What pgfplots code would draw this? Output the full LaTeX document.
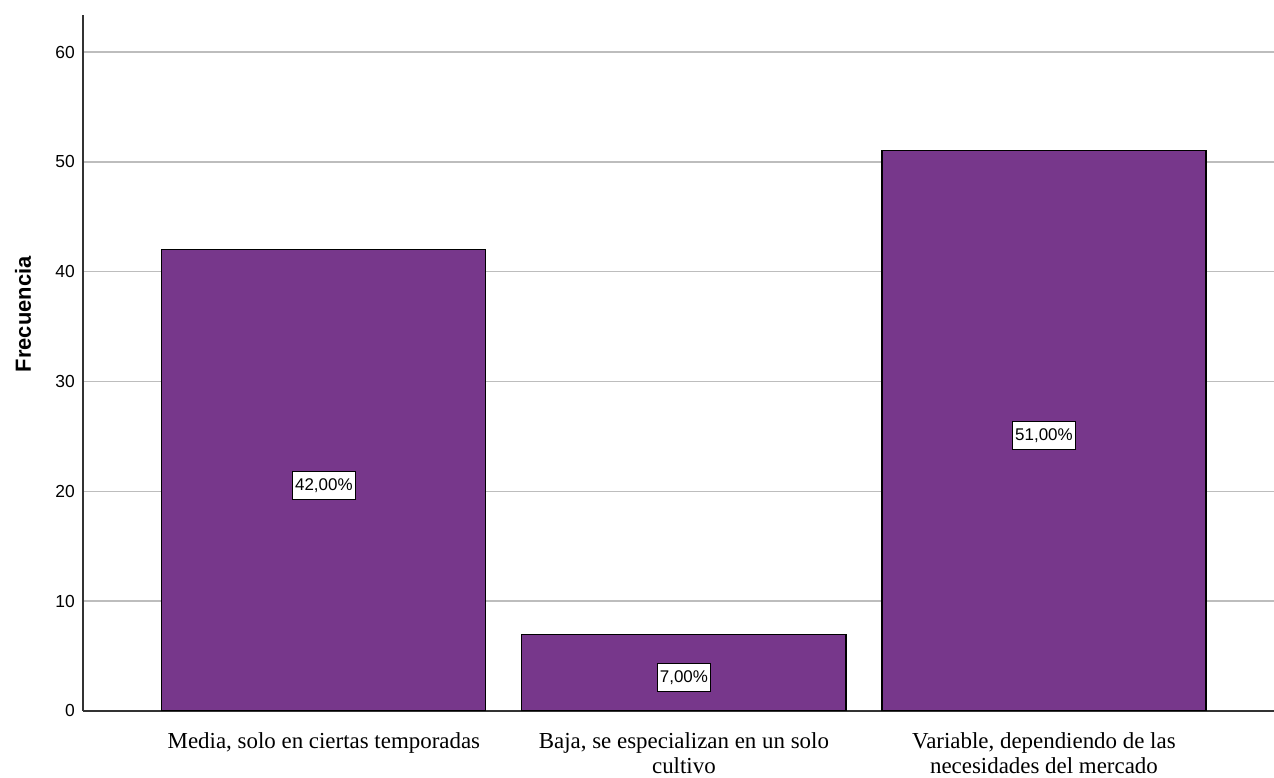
\documentclass[border=0pt]{standalone}
\usepackage{pgfplots}
\pgfplotsset{compat=1.18}
\usepackage{fontspec}
\setmainfont{Liberation Serif}
\newfontfamily\arial{Liberation Sans}
\definecolor{barpurple}{HTML}{77378B}
\definecolor{gridgray}{HTML}{BDBDBD}

\begin{document}
\begin{tikzpicture}
  \begin{axis}[
      scale only axis,
      width=1191bp, height=696bp,
      xmin=-0.669, xmax=2.639,
      ymin=0, ymax=63.37,
      separate axis lines,
      axis x line*=bottom,
      axis y line*=left,
      x axis line style={-, black!80, line width=1.3bp},
      y axis line style={-, black!80, line width=1.3bp},
      ymajorgrids,
      grid style={gridgray, line width=1.4bp},
      major tick length=0pt,
      ytick={0,10,...,60},
      xtick={0,1,2},
      xticklabels={%
        {Media, solo en ciertas temporadas},%
        {Baja, se especializan en un solo\\cultivo},%
        {Variable, dependiendo de las\\necesidades del mercado}},
      /pgf/number format/assume math mode=true,
      yticklabel style={font=\arial\fontsize{17.5}{20}\selectfont,
          anchor=east, inner sep=0pt, xshift=-8bp},
      x tick label style={font=\fontsize{23}{25.5}\selectfont,
          align=center, anchor=north,
          inner sep=0pt, yshift=-21bp},
      ylabel={Frecuencia},
      every axis y label/.style={at={(axis description cs:0,0.57)},
          xshift=-60bp, rotate=90, anchor=center,
          font=\arial\bfseries\fontsize{22}{26}\selectfont},
    ]
    \addplot[ybar, bar width=0.9, fill=barpurple, draw=black, line width=1.2bp]
      coordinates {(0,42) (1,7) (2,51)};
    \addplot[draw=none, mark=none, nodes near coords,
        point meta=explicit symbolic,
        every node near coord/.style={anchor=center, yshift=-5bp,
          fill=white, draw=black, line width=1bp, inner sep=2.5bp,
          minimum height=28bp, font=\arial\fontsize{17}{20}\selectfont}]
      coordinates {(0,21)[42,00\%] (1,3.5)[7,00\%] (2,25.5)[51,00\%]};
  \end{axis}
  \pgfresetboundingbox
  \path ([xshift=-83bp,yshift=-67bp]current axis.south west)
    rectangle ([yshift=15bp]current axis.north east);
\end{tikzpicture}
\end{document}
